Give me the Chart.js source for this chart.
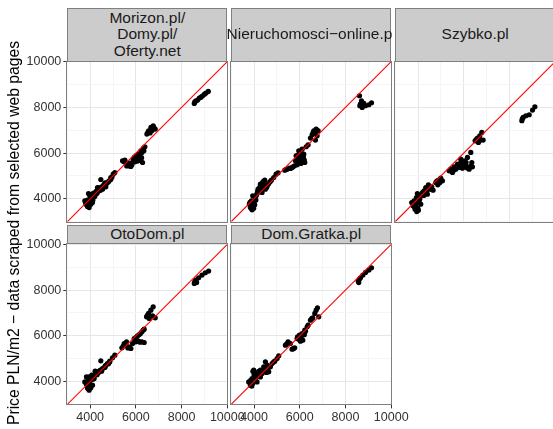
<!DOCTYPE html>
<html>
<head>
<meta charset="utf-8">
<script src="https://cdn.jsdelivr.net/npm/chart.js@4"></script>
<style>
  body { margin: 0; background: #fff; }
  #wrap { position: relative; width: 553px; height: 429px; overflow: hidden; background: #fff;
          font-family: "Liberation Sans", Arial, sans-serif; }
  canvas { position: absolute; left: 0; top: 0; }
  .strip { position: absolute; box-sizing: border-box; border: 1px solid #7f7f7f; background: #cccccc;
           display: flex; align-items: center; justify-content: center; text-align: center;
           font-size: 15.5px; line-height: 16.7px; color: #1a1a1a; white-space: pre; }
  #ytitle { position: absolute; width: 440px; height: 20px; line-height: 20px; text-align: center;
            font-size: 15.7px; color: #000; white-space: nowrap;
            left: -206px; top: 223px; transform: rotate(-90deg); }
</style>
</head>
<body>
<div id="wrap">
  <div id="ytitle">Price PLN/m2 − data scraped from selected web pages</div>
</div>
<script>
// Nazwy paneli (portale)
const panelNames = ['Morizon.pl/\nDomy.pl/\nOferty.net', 'Nieruchomosci\u2212online.pl', 'Szybko.pl', 'OtoDom.pl', 'Dom.Gratka.pl'];
const axisMin = 3000;
const axisMax = 10000;
const tickLabels = [4000, 6000, 8000, 10000];

// Punkty [cena referencyjna, cena ze strony]
const morizon = [
  [3766,3912],[3840,3737],[3883,3664],[3956,3620],[4030,3766],[4100,3840],[3927,4234],[3985,4131],
  [4073,4029],[4175,4131],[4248,4204],[4321,4496],[4394,4350],[4467,4847],[4540,4423],[4613,4570],
  [4686,4526],[4759,4715],[4832,4788],[4905,4934],[5007,5080],[5080,5153],[3800,3820],[3900,3780],
  [4000,3900],[4120,3950],[4200,4100],[4300,4250],[4350,4400],[4450,4380],[4600,4620],[4700,4650],
  [4800,4750],[4950,4950],[3880,3950],[4060,4200],[3940,3700],[4010,3990],[4150,4250],[4260,4330],
  [4380,4480],[4500,4520],[4650,4700],[4900,4850],[4560,4480],[3850,3850],
  [5416,5664],[5562,5591],[5708,5445],[5825,5489],[5927,5810],[6000,5883],[6073,5737],[6175,5883],
  [6263,6029],[6336,6219],[6394,6278],[6219,5664],[6292,5591],[5480,5620],[5640,5480],[5760,5500],
  [5880,5700],[5960,5780],[6100,5950],[6220,6100],[6300,6150],[6150,5700],[6050,5650],[5700,5560],
  [5520,5700],[5600,5440],[5780,5420],[6000,5700],[6120,5820],[6250,5800],[6350,6100],[5950,5620],
  [6482,6832],[6555,6978],[6657,7124],[6760,7197],[6847,7051],[6584,6905],[6700,6978],[6620,6880],[6800,7100],
  [6520,6900],[6720,7060],
  [8555,8176],[8628,8292],[8774,8409],[8920,8511],[9066,8628],[9168,8701],[8700,8320],[8580,8240],[8850,8450],[9000,8580]
];
const nieruchomosci = [
  [3796,3766],[3840,3620],[3912,3518],[3985,3591],[4029,3737],[3883,3912],[3942,4131],[4058,4058],
  [4131,4234],[4234,4350],[4321,4526],[4394,4759],[4467,4818],[4350,4277],[4496,4423],[4569,4569],
  [4642,4672],[4759,4818],[4861,4934],[4963,5080],[5051,5139],[4175,4423],[4277,4642],[3860,3700],
  [3950,3650],[4000,3850],[4100,4150],[4200,4300],[4300,4400],[4420,4600],[4550,4500],[4700,4750],
  [3900,3560],[3820,3850],[4080,3950],[4160,4330],[4380,4700],[4250,4500],[4600,4620],
  [5343,5255],[5445,5299],[5548,5343],[5664,5372],[5767,5445],[5883,5489],[5810,5664],[5927,5737],
  [6029,5810],[6131,5693],[6219,5591],[5985,5591],[5840,5883],[5956,6102],[6102,6175],[6278,6278],
  [6365,6365],[6175,5956],[5700,5400],[6080,5650],[6160,5800],[5900,5900],[5400,5280],[5600,5330],
  [6050,5550],[5880,5600],[6200,5700],[6050,6000],
  [6467,6657],[6540,6803],[6613,6978],[6716,7051],[6803,6978],[6759,6759],[6657,6862],[6686,6570],
  [6580,6900],[6760,7000],
  [8614,8511],[8701,8292],[8803,8176],[8628,8073],[8876,8073],[9022,8117],[9139,8205],[8730,8000],[8650,8150]
];
const szybko = [
  [3723,3839],[3781,3693],[3869,3547],[3942,3445],[4015,3504],[3825,3912],[3927,4058],[4044,3912],
  [4117,4131],[3971,4234],[4190,4277],[4263,4350],[4336,4496],[4453,4613],[4511,4423],[4599,4526],
  [4657,4380],[4409,4204],[4117,3766],[3898,3766],[3990,3600],[4080,4000],[4250,4150],[4380,4350],
  [3850,3640],[3960,3850],[4160,4200],[4300,4250],[4460,4500],[4560,4450],[4050,4150],[3800,3800],
  [4774,4715],[4891,4818],[4993,4905],[5066,4788],[4862,4613],[4950,4700],[4820,4780],
  [5358,5226],[5504,5153],[5650,5299],[5796,5372],[5942,5343],[6088,5445],[6234,5299],[6380,5401],
  [6015,5664],[5869,5737],[6161,5810],[6307,6029],[5723,5518],[5577,5401],[6351,5591],[5430,5300],
  [6000,5450],[6150,5350],[5850,5550],[5560,5250],[6280,5420],[6100,5600],[5950,5550],
  [6497,6540],[6599,6657],[6701,6759],[6789,6905],[6745,6570],[6643,6467],[6847,6570],[6550,6600],
  [8541,7416],[8599,7562],[8716,7635],[8862,7679],[9008,7883],[9110,8029],[8560,7500]
];
const otodom = [
  [3766,3985],[3839,3869],[3883,3723],[3956,3620],[4029,3723],[4102,3839],[3956,4204],[4073,4277],
  [4175,4131],[4248,4307],[4321,4394],[4394,4453],[4467,4905],[4540,4569],[4657,4686],[4759,4788],
  [4861,4891],[4978,5037],[5080,5153],[4219,4453],[3839,4204],[3920,3900],[4000,4050],[4120,4100],
  [4300,4300],[4450,4500],[4600,4600],[4700,4720],[4850,4850],[3900,3700],[4000,3800],[4060,4150],
  [4180,4250],[4360,4380],[4500,4450],[4650,4620],[4800,4780],[3930,4080],
  [5387,5475],[5489,5664],[5591,5737],[5679,5518],[5781,5445],[5854,5664],[5927,5883],[6029,5956],
  [6146,6059],[6263,6175],[6365,6292],[6117,5766],[6263,5737],[6365,5708],[6000,5737],[5550,5600],
  [5740,5480],[6080,6000],[6200,6100],[6320,6250],[5450,5560],[5650,5470],[5960,5800],[6180,5720],
  [6467,6832],[6555,6978],[6657,7124],[6759,7270],[6730,6876],[6847,6789],[6584,6759],[6500,6900],
  [8555,8292],[8628,8438],[8745,8541],[8891,8657],[9037,8760],[9183,8833],[8657,8336],[8580,8380]
];
const gratka = [
  [3766,3985],[3839,3839],[3912,4131],[3985,4496],[4058,4350],[4131,3985],[3942,3912],[4204,4277],
  [4277,4496],[4350,4350],[4423,4642],[4496,4861],[4569,4715],[4642,4423],[4715,4642],[4788,4788],
  [4905,4891],[5007,5007],[5080,5124],[4088,4204],[4277,4204],[3900,3800],[4000,4300],[4150,4400],
  [4500,4550],[4620,4600],[3850,4050],[3950,4450],[4050,4100],[4200,4450],[4400,4500],[4540,4400],
  [4850,4850],[3880,3950],
  [5372,5591],[5489,5737],[5591,5664],[5664,5416],[5781,5475],[5883,5883],[5985,6029],[6102,6102],
  [6219,6248],[6321,6394],[6131,5810],[6029,5766],[6365,6467],[5720,5440],[5950,5850],[6200,6050],
  [5430,5650],[5900,5950],[6060,5900],[6250,6200],
  [6467,6686],[6570,6789],[6657,6978],[6716,7124],[6774,7227],[6832,6832],[6520,6750],
  [8555,8395],[8657,8541],[8760,8657],[8876,8774],[9022,8876],[9139,8979],[8614,8482],[8580,8330]
];
const panelData = [morizon, nieruchomosci, szybko, otodom, gratka];

// Obszary paneli w pikselach: [lewo, gora, prawo, dol]
const boxes = [
  [67.3, 61.7, 227.3, 221.7],
  [231.2, 61.7, 391.2, 221.7],
  [395.2, 61.7, 555.2, 221.7],
  [67.3, 244.4, 227.3, 404.4],
  [231.2, 244.4, 391.2, 404.4]
];
const stripBoxes = [[8, 53.7], [8, 53.7], [8, 53.7], [225, 19.4], [225, 19.4]];
const showY = [true, false, false, true, false];
const showX = [false, false, false, true, true];

const CW = 560, CH = 429;
const YW = 44, XH = 26;
const tickFont = { family: '"Liberation Sans", Arial, sans-serif', size: 12.5 };

// Ramka panelu rysowana na wierzchu
const borderPlugin = {
  id: 'panelBorder',
  afterDraw(chart) {
    const a = chart.chartArea;
    const ctx = chart.ctx;
    ctx.save();
    ctx.strokeStyle = '#7f7f7f';
    ctx.lineWidth = 1;
    ctx.strokeRect(Math.round(a.left) - 0.5, Math.round(a.top) - 0.5,
                   Math.round(a.right) - Math.round(a.left) + 1, Math.round(a.bottom) - Math.round(a.top) + 1);
    ctx.restore();
  }
};

function gridColor(c) {
  const v = c.tick ? c.tick.value : 0;
  return v % 2000 === 0 ? '#e6e6e6' : '#f5f5f5';
}
function tickColor(c) {
  const v = c.tick ? c.tick.value : 0;
  return tickLabels.includes(v) ? '#333333' : 'rgba(0,0,0,0)';
}

function crearPanel(i) {
  const wrap = document.getElementById('wrap');
  const b = boxes[i];

  // Pasek z nazwa
  const s = document.createElement('div');
  s.className = 'strip';
  s.style.left = b[0] + 'px';
  s.style.width = (b[2] - b[0]) + 'px';
  s.style.top = stripBoxes[i][0] + 'px';
  s.style.height = stripBoxes[i][1] + 'px';
  if (i === 1) s.style.clipPath = 'inset(-5px 0 -5px -30px)';
  s.textContent = panelNames[i];

  const canvas = document.createElement('canvas');
  canvas.width = CW;
  canvas.height = CH;
  wrap.insertBefore(canvas, wrap.firstChild.nextSibling);
  wrap.appendChild(s);

  const yw = showY[i] ? YW : 0;
  const xh = showX[i] ? XH : 0;

  return new Chart(canvas.getContext('2d'), {
    type: 'scatter',
    data: {
      datasets: [
        {
          data: [{ x: axisMin, y: axisMin }, { x: axisMax, y: axisMax }],
          showLine: true,
          borderColor: '#ff0000',
          borderWidth: 1.1,
          pointRadius: 0
        },
        {
          data: panelData[i].map(p => ({ x: p[0], y: p[1] })),
          backgroundColor: '#000000',
          borderWidth: 0,
          pointRadius: 2.6
        }
      ]
    },
    options: {
      responsive: false,
      animation: false,
      events: [],
      layout: {
        autoPadding: false,
        padding: { left: b[0] - yw, top: b[1], right: CW - b[2], bottom: CH - b[3] - xh }
      },
      plugins: { legend: { display: false }, tooltip: { enabled: false } },
      scales: {
        x: {
          type: 'linear', min: axisMin, max: axisMax,
          border: { display: false },
          grid: { color: gridColor, tickColor: tickColor, tickLength: 4, drawTicks: showX[i], lineWidth: 1 },
          ticks: {
            display: showX[i], stepSize: 1000, autoSkip: false, maxRotation: 0, padding: 2,
            color: '#333333', font: tickFont,
            callback: v => tickLabels.includes(v) ? String(v) : ''
          },
          afterFit: sc => { sc.height = xh; sc.paddingLeft = 0; sc.paddingRight = 0; }
        },
        y: {
          type: 'linear', min: axisMin, max: axisMax,
          border: { display: false },
          grid: { color: gridColor, tickColor: tickColor, tickLength: 4, drawTicks: showY[i], lineWidth: 1 },
          ticks: {
            display: showY[i], stepSize: 1000, autoSkip: false, padding: 2,
            color: '#333333', font: tickFont,
            callback: v => tickLabels.includes(v) ? String(v) : ''
          },
          afterFit: sc => { sc.width = yw; sc.paddingTop = 0; sc.paddingBottom = 0; }
        }
      }
    },
    plugins: [borderPlugin]
  });
}

const paneles = panelNames.map((n, i) => crearPanel(i));
</script>
</body>
</html>
